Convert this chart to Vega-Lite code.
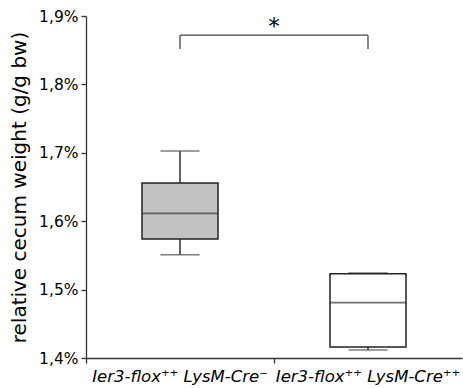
{
  "$schema": "https://vega.github.io/schema/vega-lite/v6.json",
  "width": 376,
  "height": 342,
  "autosize": "none",
  "padding": {"left": 86, "top": 16, "right": 1, "bottom": 30},
  "config": {
    "font": "DejaVu Sans",
    "view": {"stroke": null},
    "axis": {"grid": false, "domainColor": "#333", "tickColor": "#333", "domainWidth": 1.3, "tickWidth": 1.3, "labelColor": "#000", "titleColor": "#000", "labelFont": "DejaVu Sans", "titleFont": "DejaVu Sans"}
  },
  "datasets": {
    "boxes": [
      {"group": "Ier3-flox⁺⁺ LysM-Cre⁻", "min": 1.551, "q1": 1.574, "median": 1.6115, "q3": 1.656, "max": 1.7026},
      {"group": "Ier3-flox⁺⁺ LysM-Cre⁺⁺", "min": 1.4117, "q1": 1.416, "median": 1.481, "q3": 1.523, "max": 1.5243}
    ],
    "bracket": [
      {"group": "Ier3-flox⁺⁺ LysM-Cre⁻", "low": 1.8518, "high": 1.872},
      {"group": "Ier3-flox⁺⁺ LysM-Cre⁺⁺", "low": 1.8518, "high": 1.872}
    ],
    "bar": [
      {"from": "Ier3-flox⁺⁺ LysM-Cre⁻", "to": "Ier3-flox⁺⁺ LysM-Cre⁺⁺", "level": 1.872}
    ],
    "star": [
      {"group": "Ier3-flox⁺⁺ LysM-Cre⁻", "label": "*", "level": 1.884}
    ]
  },
  "encoding": {
    "x": {
      "field": "group", "type": "nominal", "sort": null,
      "scale": {"paddingInner": 0, "paddingOuter": 0, "domain": ["Ier3-flox⁺⁺ LysM-Cre⁻", "Ier3-flox⁺⁺ LysM-Cre⁺⁺"]},
      "axis": {"title": null, "labelAngle": 0, "labelFontSize": 16.5, "labelFontStyle": "italic", "labelPadding": 5, "tickSize": 5, "bandPosition": 0, "labelLimit": 0, "labelOverlap": false, "labelBound": false}
    }
  },
  "layer": [
    {
      "data": {"name": "boxes"},
      "mark": {"type": "rule", "color": "#222", "strokeWidth": 1.4},
      "encoding": {
        "y": {"field": "min", "type": "quantitative", "scale": {"domain": [1.4, 1.9], "nice": false, "zero": false},
          "axis": {"title": "relative cecum weight (g/g bw)", "titleFontSize": 20, "titleFontWeight": "normal", "titlePadding": 9, "labelFontSize": 15.5, "tickSize": 5, "labelPadding": 3, "values": [1.4, 1.5, 1.6, 1.7, 1.8, 1.9], "labelExpr": "replace(format(datum.value, '.1f'), '.', ',') + '%'"}},
        "y2": {"field": "q1"}
      }
    },
    {
      "data": {"name": "boxes"},
      "mark": {"type": "rule", "color": "#222", "strokeWidth": 1.4},
      "encoding": {"y": {"field": "q3", "type": "quantitative"}, "y2": {"field": "max"}}
    },
    {
      "data": {"name": "boxes"},
      "mark": {"type": "tick", "orient": "horizontal", "color": "#444", "size": 39, "thickness": 1.6},
      "encoding": {"y": {"field": "min", "type": "quantitative"}}
    },
    {
      "data": {"name": "boxes"},
      "mark": {"type": "tick", "orient": "horizontal", "color": "#444", "size": 39, "thickness": 1.6},
      "encoding": {"y": {"field": "max", "type": "quantitative"}}
    },
    {
      "data": {"name": "boxes"},
      "mark": {"type": "bar", "size": 76, "stroke": "#222", "strokeWidth": 1.5},
      "encoding": {
        "y": {"field": "q1", "type": "quantitative"}, "y2": {"field": "q3"},
        "fill": {"field": "group", "type": "nominal", "scale": {"domain": ["Ier3-flox⁺⁺ LysM-Cre⁻", "Ier3-flox⁺⁺ LysM-Cre⁺⁺"], "range": ["#c2c2c2", "#ffffff"]}, "legend": null}
      }
    },
    {
      "data": {"name": "boxes"},
      "mark": {"type": "tick", "orient": "horizontal", "color": "#333", "size": 76, "thickness": 1.6},
      "encoding": {"y": {"field": "median", "type": "quantitative"}}
    },
    {
      "data": {"name": "bracket"},
      "mark": {"type": "rule", "color": "#444", "strokeWidth": 1.3},
      "encoding": {"y": {"field": "low", "type": "quantitative"}, "y2": {"field": "high"}}
    },
    {
      "data": {"name": "bar"},
      "mark": {"type": "rule", "color": "#444", "strokeWidth": 1.3},
      "encoding": {
        "x": {"field": "from", "type": "nominal"},
        "x2": {"field": "to"},
        "y": {"field": "level", "type": "quantitative"}
      }
    },
    {
      "data": {"name": "star"},
      "mark": {"type": "text", "fontSize": 23, "baseline": "middle", "align": "center", "color": "#000"},
      "encoding": {
        "x": {"field": "group", "type": "nominal", "bandPosition": 1},
        "y": {"field": "level", "type": "quantitative"},
        "text": {"field": "label"}
      }
    }
  ]
}
